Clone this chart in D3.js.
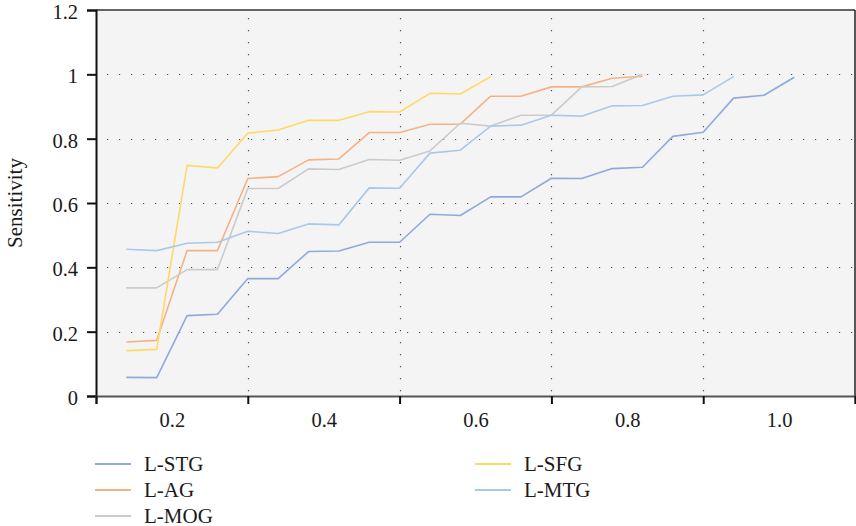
<!DOCTYPE html>
<html>
<head>
<meta charset="utf-8">
<script src="https://cdn.jsdelivr.net/npm/d3@7"></script>
<style>
  html, body { margin: 0; padding: 0; background: #fff; }
  svg { display: block; }
  text { font-family: "Liberation Serif", "Times New Roman", serif; fill: #1a1a1a; }
</style>
</head>
<body>
<svg id="chart" width="856" height="526"></svg>
<script>
// Threshold positions shared by every curve
const xValues = [0.14, 0.18, 0.22, 0.26, 0.30, 0.34, 0.38, 0.42, 0.46, 0.50, 0.54, 0.58,
                 0.62, 0.66, 0.70, 0.74, 0.78, 0.82, 0.86, 0.90, 0.94, 0.98, 1.02];

// Sensitivity per region
const stg = [0.058, 0.057, 0.250, 0.254, 0.365, 0.365, 0.449, 0.451, 0.478, 0.478, 0.565, 0.561,
             0.619, 0.619, 0.677, 0.676, 0.707, 0.711, 0.807, 0.820, 0.926, 0.935, 0.991];
const ag  = [0.168, 0.173, 0.452, 0.452, 0.676, 0.682, 0.734, 0.737, 0.819, 0.819, 0.845, 0.845,
             0.932, 0.932, 0.961, 0.961, 0.988, 0.994];
const mog = [0.336, 0.336, 0.393, 0.393, 0.645, 0.645, 0.706, 0.704, 0.735, 0.733, 0.762, 0.848,
             0.839, 0.873, 0.873, 0.961, 0.962, 1.000];
const sfg = [0.141, 0.145, 0.717, 0.709, 0.817, 0.827, 0.857, 0.857, 0.884, 0.883, 0.941, 0.939,
             0.993];
const mtg = [0.456, 0.452, 0.475, 0.478, 0.512, 0.505, 0.535, 0.532, 0.647, 0.646, 0.755, 0.764,
             0.839, 0.842, 0.873, 0.870, 0.902, 0.903, 0.932, 0.936, 0.993];

const seriesNames = ["L-STG", "L-AG", "L-MOG", "L-SFG", "L-MTG"];
const seriesValues = [stg, ag, mog, sfg, mtg];
const seriesColors = ["#8eaadc", "#f5b285", "#cbcbcb", "#ffd966", "#a9c9ea"];

// Axis ticks
const xTickMarks = [0.1, 0.3, 0.5, 0.7, 0.9, 1.1];
const xTickLabels = ["0.2", "0.4", "0.6", "0.8", "1.0"];
const yTickValues = [0, 0.2, 0.4, 0.6, 0.8, 1.0, 1.2];
const yTickLabels = ["0", "0.2", "0.4", "0.6", "0.8", "1", "1.2"];

const svg = d3.select("#chart");
const margin = { left: 96, top: 10, right: 1, bottom: 130 };
const W = 856, H = 526;
const plotW = W - margin.left - margin.right;
const plotH = H - margin.top - margin.bottom;

const x = d3.scaleLinear().domain([0.1, 1.1]).range([margin.left, margin.left + plotW]);
const y = d3.scaleLinear().domain([0, 1.2]).range([margin.top + plotH, margin.top]);

// Plot background
svg.append("rect")
  .attr("x", x(0.1)).attr("y", y(1.2))
  .attr("width", x(1.1) - x(0.1)).attr("height", y(0) - y(1.2))
  .attr("fill", "#f4f4f4");

// Dotted grid
const grid = svg.append("g").attr("stroke", "#4d4d4d").attr("stroke-width", 1.2)
  .attr("stroke-dasharray", "1.2,10.8");
grid.selectAll("line.h").data(yTickValues.slice(1, -1)).join("line")
  .attr("class", "h")
  .attr("x1", x(0.1) + 11).attr("x2", x(1.1))
  .attr("y1", d => Math.round(y(d)) + 0.5).attr("y2", d => Math.round(y(d)) + 0.5);
grid.selectAll("line.v").data(xTickMarks.slice(1, -1)).join("line")
  .attr("class", "v")
  .attr("y1", y(1.2) + 8).attr("y2", y(0))
  .attr("x1", d => Math.round(x(d)) + 0.5).attr("x2", d => Math.round(x(d)) + 0.5);

// Series lines
const line = d3.line().x((d, i) => x(xValues[i])).y(d => y(d));
svg.append("g").selectAll("path").data(seriesValues).join("path")
  .attr("d", d => line(d))
  .attr("fill", "none")
  .attr("stroke", (d, i) => seriesColors[i])
  .attr("stroke-width", 1.6)
  .attr("stroke-linejoin", "round");

// Frame: top and right border
svg.append("line").attr("x1", x(0.1)).attr("x2", x(1.1)).attr("y1", y(1.2)).attr("y2", y(1.2))
  .attr("stroke", "#333").attr("stroke-width", 1.5);
svg.append("line").attr("x1", x(1.1)).attr("x2", x(1.1)).attr("y1", y(1.2)).attr("y2", y(0))
  .attr("stroke", "#222").attr("stroke-width", 1.5);

// Y axis
const yAxis = d3.axisLeft(y).tickValues(yTickValues)
  .tickFormat((d, i) => yTickLabels[i]).tickSize(9).tickPadding(9);
const gy = svg.append("g").attr("transform", `translate(${x(0.1)},0)`).call(yAxis);
gy.select(".domain").attr("stroke", "#111").attr("stroke-width", 2);
gy.selectAll(".tick line").attr("stroke", "#111").attr("stroke-width", 2);
gy.selectAll(".tick text").attr("font-size", 20.5).attr("dy", "0.42em")
  .attr("font-family", "Liberation Serif, serif").attr("fill", "#1a1a1a");

// X axis: tick marks at band edges, labels at band centres
const xAxisMarks = d3.axisBottom(x).tickValues(xTickMarks).tickFormat("").tickSize(8);
const gx = svg.append("g").attr("transform", `translate(0,${y(0)})`).call(xAxisMarks);
gx.select(".domain").attr("stroke", "#555").attr("stroke-width", 2);
gx.selectAll(".tick line").attr("stroke", "#111").attr("stroke-width", 2);

const xAxisLabels = d3.axisBottom(x).tickValues(xTickLabels.map(Number))
  .tickFormat((d, i) => xTickLabels[i]).tickSize(0).tickPadding(16);
const gxl = svg.append("g").attr("transform", `translate(0,${y(0)})`).call(xAxisLabels);
gxl.select(".domain").remove();
gxl.selectAll(".tick text").attr("font-size", 20.5)
  .attr("font-family", "Liberation Serif, serif").attr("fill", "#1a1a1a");

// Y axis title
svg.append("text")
  .attr("transform", `translate(22,${y(0.6)}) rotate(-90)`)
  .attr("text-anchor", "middle")
  .attr("font-size", 21)
  .text("Sensitivity");

// Legend, two columns
const legendPos = [
  { lx: 95, ly: 464 }, { lx: 95, ly: 490 }, { lx: 95, ly: 516 },
  { lx: 475, ly: 464 }, { lx: 475, ly: 490 }
];
const lg = svg.append("g").selectAll("g").data(seriesNames).join("g")
  .attr("transform", (d, i) => `translate(${legendPos[i].lx},${legendPos[i].ly})`);
lg.append("line").attr("x1", 0).attr("x2", 36).attr("y1", 0).attr("y2", 0)
  .attr("stroke", (d, i) => seriesColors[i]).attr("stroke-width", 2);
lg.append("text").attr("x", 49).attr("y", 6.5).attr("font-size", 21).text(d => d);
</script>
</body>
</html>
